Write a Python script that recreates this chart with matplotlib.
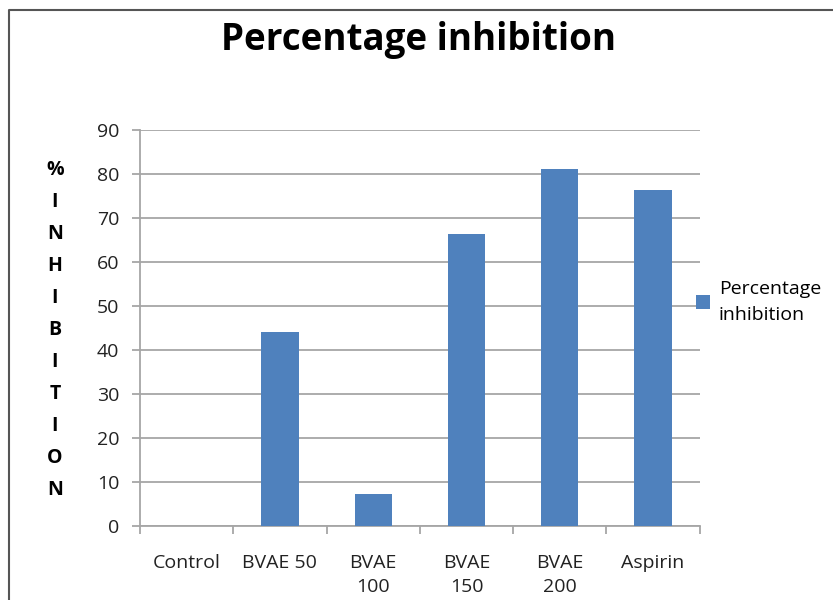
import matplotlib
matplotlib.use("Agg")
import matplotlib.pyplot as plt
from matplotlib.lines import Line2D
import numpy as np

categories = ["Control", "BVAE 50", "BVAE\n100", "BVAE\n150", "BVAE\n200", "Aspirin"]
inhibition = [0, 44.2, 7.3, 66.4, 81.1, 76.4]
yticks = list(range(0, 100, 10))

bar_color = "#4F81BD"
grid_color = "#A6A6A6"
font = ["Open Sans", "DejaVu Sans"]
plt.rcParams["font.family"] = font

fig = plt.figure(figsize=(8.33, 6), dpi=100)
ax = fig.add_axes([0.168, 0.1233, 0.672, 0.66])

x = np.arange(len(categories))
ax.bar(x, inhibition, width=0.4, color=bar_color, label="Percentage inhibition", zorder=3)

ax.set_xlim(-0.5, len(categories) - 0.5)
ax.set_ylim(0, 90)
ax.set_yticks(yticks)
ax.yaxis.grid(True, color=grid_color, linewidth=1.3, zorder=0)
ax.set_xticks(x)
ax.set_xticklabels(categories, fontsize=14, color="#222222", linespacing=1.45, va="top")
ax.set_xticks(np.arange(len(categories) + 1) - 0.5, minor=True)
ax.tick_params(axis="x", which="major", length=0, pad=20)
ax.tick_params(axis="x", which="minor", length=6, color=grid_color, width=1.3, direction="out")
ax.tick_params(axis="y", labelsize=14, labelcolor="#222222", length=6, color=grid_color, width=1.3, pad=9)
for s in ["top", "right"]:
    ax.spines[s].set_visible(False)
for s in ["left", "bottom"]:
    ax.spines[s].set_color(grid_color)
    ax.spines[s].set_linewidth(1.3)

# stacked vertical y label
fig.text(0.066, 0.45, "%\nI\nN\nH\nI\nB\nI\nT\nI\nO\nN", ha="center", va="center",
         fontsize=14, fontweight="bold", linespacing=1.8)

fig.text(0.502, 0.933, "Percentage inhibition", ha="center", va="center",
         fontsize=26.5, fontweight="bold")

leg = fig.legend(loc="center left", bbox_to_anchor=(0.815, 0.497), frameon=False,
                 fontsize=14, handlelength=0.7, handleheight=0.7, handletextpad=0.45,
                 labels=["Percentage\ninhibition"], handles=ax.patches[:1])
leg.get_texts()[0].set_linespacing(1.55)

fig.add_artist(Line2D([0.011, 0.011, 1.01], [-0.01, 0.983, 0.983], color="#555555",
                      linewidth=1.5, transform=fig.transFigure))

fig.savefig("out.png", dpi=100)
